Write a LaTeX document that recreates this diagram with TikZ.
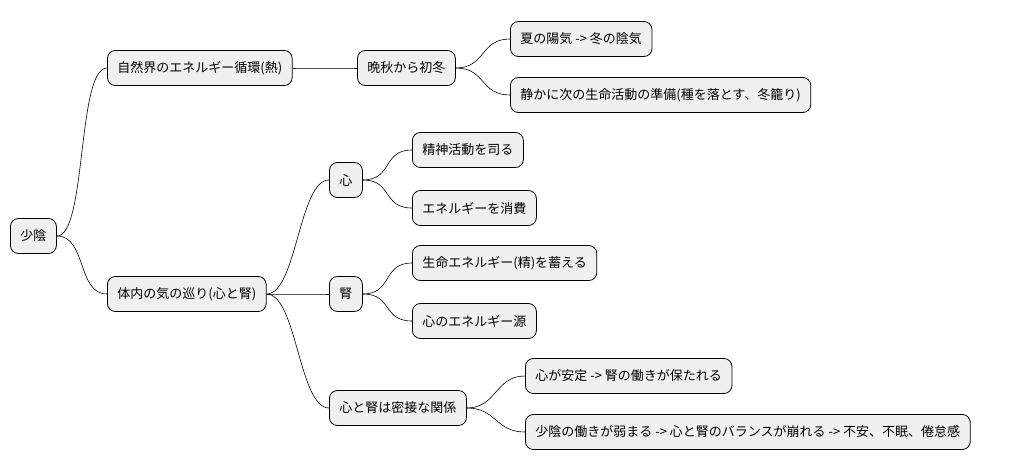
\documentclass[tikz,border=0pt]{standalone}
\usepackage{fontspec}
\setmainfont{Noto Sans CJK JP}
\begin{document}
\begin{tikzpicture}[x=1pt,y=-1pt,
  box/.style={draw=black,fill=gray!12,rounded corners=8pt,line width=0.8pt,minimum height=35pt,inner xsep=10pt,anchor=west,font=\fontsize{13}{15}\selectfont},
  link/.style={draw=black,line width=0.6pt}]
\useasboundingbox (0,0) rectangle (1027,471);
\node[box] (r) at (10,236) {少陰};
\node[box] (a) at (107,68) {自然界のエネルギー循環(熱)};
\node[box] (a1) at (357,68) {晩秋から初冬};
\node[box] (a11) at (510,39) {夏の陽気 -> 冬の陰気};
\node[box] (a12) at (510,95) {静かに次の生命活動の準備(種を落とす、冬籠り)};
\node[box] (b) at (107,294) {体内の気の巡り(心と腎)};
\node[box] (b1) at (329,180) {心};
\node[box] (b11) at (412,150) {精神活動を司る};
\node[box] (b12) at (412,208) {エネルギーを消費};
\node[box] (b2) at (329,294) {腎};
\node[box] (b21) at (412,263) {生命エネルギー(精)を蓄える};
\node[box] (b22) at (412,321) {心のエネルギー源};
\node[box] (b3) at (329,408) {心と腎は密接な関係};
\node[box] (b31) at (525,376) {心が安定 -> 腎の働きが保たれる};
\node[box] (b32) at (525,432) {少陰の働きが弱まる -> 心と腎のバランスが崩れる -> 不安、不眠、倦怠感};
\foreach \p/\c in {r/a,r/b,a/a1,a1/a11,a1/a12,b/b1,b/b2,b/b3,b1/b11,b1/b12,b2/b21,b2/b22,b3/b31,b3/b32}
  \draw[link] (\p.east) .. controls +(30,0) and +(-30,0) .. (\c.west);
\end{tikzpicture}
\end{document}
